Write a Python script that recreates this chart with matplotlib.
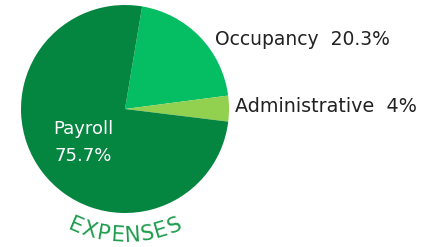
import numpy as np
import matplotlib; matplotlib.use("Agg")
import matplotlib.pyplot as plt

labels = ["Occupancy", "Administrative", "Payroll"]
shares = [20.3, 4.0, 75.7]
colors = ["#05bd62", "#92d050", "#048540"]
title = "EXPENSES"

W, H = 436, 247
fig = plt.figure(figsize=(W / 100, H / 100), dpi=100)
ax = fig.add_axes([0, 0, 1, 1])
cx, cy, r = 125, H - 109, 104
ax.pie(shares, colors=colors, startangle=80.5, counterclock=False,
       center=(cx, cy), radius=r, wedgeprops=dict(linewidth=0))
ax.set_xlim(0, W); ax.set_ylim(0, H); ax.set_aspect("equal"); ax.axis("off")

font = "DejaVu Sans"
ax.text(215, H - 40, f"{labels[0]}  {shares[0]:.1f}%", fontsize=13.5, color="#222222",
        family=font, ha="left", va="center")
ax.text(235, H - 107, f"{labels[1]}  {shares[1]:.0f}%", fontsize=13.8, color="#222222",
        family=font, ha="left", va="center")
ax.text(83, H - 129, labels[2], fontsize=13, color="white", family=font, ha="center", va="center")
ax.text(83, H - 156, f"{shares[2]:.1f}%", fontsize=13, color="white", family=font, ha="center", va="center")

# curved title under the pie
R = 127
n = len(title)
step = 6.6
for i, ch in enumerate(title):
    th = -90 - step * (n - 1) / 2 + step * i
    t = np.radians(th)
    ax.text(cx + R * np.cos(t), cy + R * np.sin(t), ch, fontsize=15.5, color="#1e9c4c",
            family=font, ha="center", va="center", rotation=th + 90)

fig.savefig("out.png", dpi=100)
